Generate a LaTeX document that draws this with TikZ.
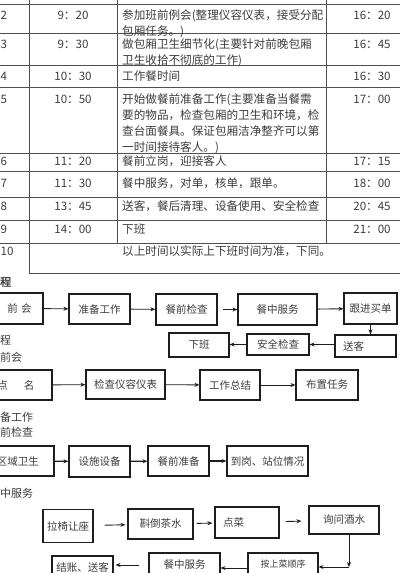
\documentclass[tikz,border=0pt]{standalone}
\usepackage{fontspec}
\setmainfont{Noto Sans CJK SC}[AutoFakeBold=2]
\usetikzlibrary{arrows.meta}
\definecolor{ink}{HTML}{3C3C3C}
\definecolor{frame}{HTML}{1E1E1E}
\definecolor{grid}{HTML}{505050}

\begin{document}
\begin{tikzpicture}[x=1pt,y=-1pt,
  cell/.style={anchor=base west,align=left,inner sep=0pt,text=ink,
               font=\fontsize{11.6}{16}\selectfont},
  tm/.style={anchor=base,inner sep=0pt,text=ink,font=\fontsize{11.6}{16}\selectfont},
  hd/.style={anchor=base west,inner sep=0pt,text=ink,font=\fontsize{11}{13}\selectfont},
  box/.style={draw=frame,line width=1.1pt,inner sep=0pt,text=ink,
              font=\fontsize{10.5}{12}\selectfont},
  lbox/.style={box,align=left,inner xsep=8pt},
  >={Stealth[length=5pt,width=4pt]}]
\clip (0,0) rectangle (400,573);
% table
\draw[grid,line width=0.9pt]
  (0,4) -- (400,4) (0,33) -- (400,33) (0,65) -- (400,65) (0,87) -- (400,87)
  (0,153) -- (400,153) (0,171) -- (400,171) (0,197) -- (400,197)
  (0,220) -- (400,220) (0,243) -- (400,243) (29,273) -- (400,273)
  (29,0) -- (29,273) (117,0) -- (117,243) (326,0) -- (326,243);
% multi-line cells sit on the baseline of their last line
\node[cell] (n2) at (0.5,19) {2};
\node[tm] (a2) at (73,19) {9：20};
\node[cell] (c2) at (122,35) {参加班前例会(整理仪容仪表，接受分配\\包厢任务。)};
\node[tm] (b2) at (372,19) {16：20};
\node[cell] (n3) at (0.5,48) {3};
\node[tm] (a3) at (73,48) {9：30};
\node[cell] (c3) at (122,64) {做包厢卫生细节化(主要针对前晚包厢\\卫生收拾不彻底的工作)};
\node[tm] (b3) at (372,48) {16：45};
\node[cell] (n4) at (0.5,80) {4};
\node[tm] (a4) at (73,80) {10：30};
\node[cell] (c4) at (122,80) {工作餐时间};
\node[tm] (b4) at (372,80) {16：30};
\node[cell] (n5) at (0.5,103) {5};
\node[tm] (a5) at (73,103) {10：50};
\node[cell] (c5) at (122,151) {开始做餐前准备工作(主要准备当餐需\\要的物品，检查包厢的卫生和环境，检\\查台面餐具。保证包厢洁净整齐可以第\\一时间接待客人。)};
\node[tm] (b5) at (372,103) {17：00};
\node[cell] (n6) at (0.5,165) {6};
\node[tm] (a6) at (73,165) {11：20};
\node[cell] (c6) at (122,165) {餐前立岗，迎接客人};
\node[tm] (b6) at (372,165) {17：15};
\node[cell] (n7) at (0.5,187) {7};
\node[tm] (a7) at (73,187) {11：30};
\node[cell] (c7) at (122,187) {餐中服务，对单，核单，跟单。};
\node[tm] (b7) at (372,187) {18：00};
\node[cell] (n8) at (0.5,210) {8};
\node[tm] (a8) at (73,210) {13：45};
\node[cell] (c8) at (122,210) {送客，餐后清理、设备使用、安全检查};
\node[tm] (b8) at (372,210) {20：45};
\node[cell] (n9) at (0.5,233) {9};
\node[tm] (a9) at (73,233) {14：00};
\node[cell] (c9) at (122,233) {下班};
\node[tm] (b9) at (372,233) {21：00};
\node[cell] (n10) at (0.5,255) {10};
\node[cell] (c10) at (122,255) {以上时间以实际上下班时间为准，下同。};
% flow of the day
\node[hd,font=\fontsize{11}{13}\selectfont\bfseries] (h1) at (0,286) {程};
\node[box,minimum width=47,minimum height=31] (qa) at (19.5,308.5) {前\,\,会};
\node[box,minimum width=61,minimum height=30] (qb) at (99.5,309) {准备工作};
\node[box,minimum width=61,minimum height=31] (qc) at (186.5,309.5) {餐前检查};
\node[box,minimum width=79,minimum height=31] (qd) at (277.5,309.5) {餐中服务};
\node[box,minimum width=53,minimum height=31] (qe) at (370.5,308.5) {跟进买单};
\node[lbox,text width=45,minimum height=22] (qf) at (365.5,346) {送客};
\node[box,minimum width=62,minimum height=21] (qg) at (278,344.5) {安全检查};
\node[box,minimum width=60,minimum height=24] (qh) at (199,345) {下班};
\draw[->,frame,line width=0.9pt] (qa) -- (qb);
\draw[->,frame,line width=0.9pt] (qb) -- (qc);
\draw[->,frame,line width=0.9pt,shorten <=5pt] (qc) -- (qd);
\draw[->,frame,line width=0.9pt] (qd) -- (qe);
\draw[->,frame,line width=0.9pt] (qe.south) -- (qe.south |- qf.north);
\draw[->,frame,line width=0.9pt] (qf.west |- qg.east) -- (qg.east);
\draw[->,frame,line width=0.9pt] (qg.west) -- (qg.west -| qh.east);
% pre-shift meeting
\node[hd] (h2) at (0,344) {程};
\node[hd] (h3) at (0,361) {前会};
\node[box,minimum width=72,minimum height=30] (pa) at (16,385) {点\hspace{16pt}名};
\node[box,minimum width=79,minimum height=29] (pb) at (125.5,384.5) {检查仪容仪表};
\node[box,minimum width=60,minimum height=30] (pc) at (230,385) {工作总结};
\node[box,minimum width=62,minimum height=30] (pd) at (327,385) {布置任务};
\draw[->,frame,line width=0.9pt] (pa) -- (pb);
\draw[->,frame,line width=0.9pt] (pb) -- (pc);
\draw[->,frame,line width=0.9pt] (pc) -- (pd);
% preparation / pre-meal check
\node[hd] (h4) at (0,421) {备工作};
\node[hd] (h5) at (0,436) {前检查};
\node[box,minimum width=72,minimum height=30] (ra) at (18,461) {区域卫生};
\node[box,minimum width=61,minimum height=31] (rb) at (99.5,461.5) {设施设备};
\node[box,minimum width=61,minimum height=30] (rc) at (178.5,461) {餐前准备};
\node[box,minimum width=81,minimum height=30] (rd) at (267.5,461) {到岗、站位情况};
\draw[->,frame,line width=1.3pt] (ra) -- (rb);
\draw[->,frame,line width=1.3pt] (rb) -- (rc);
\draw[->,frame,line width=1.3pt] (rc) -- (rd);
% service during the meal
\node[hd] (h6) at (0,497) {中服务};
\node[box,minimum width=50,minimum height=33] (sa) at (68,526) {拉椅让座};
\node[box,minimum width=65,minimum height=30] (sb) at (160.5,524) {斟倒茶水};
\node[lbox,text width=48,minimum height=31] (sc) at (247,522.5) {点菜};
\node[box,minimum width=70,minimum height=28] (sd) at (344,520) {询问酒水};
\node[box,minimum width=70,minimum height=22,font=\fontsize{9}{11}\selectfont] (se) at (283,564) {按上菜顺序};
\node[box,minimum width=71,minimum height=24] (sf) at (184.5,565) {餐中服务};
\node[box,minimum width=61,minimum height=22] (sg) at (82.5,567) {结账、送客};
\coordinate (k) at (349,567);
\draw[->,frame,line width=0.9pt,shorten <=11pt,shorten >=2pt] (sa) -- (sb);
\draw[->,frame,line width=0.9pt,shorten <=3pt,shorten >=2pt] (sb) -- (sc);
\draw[->,frame,line width=0.9pt,shorten <=6pt,shorten >=7pt] (sc) -- (sd);
\draw[->,frame,line width=0.9pt] (k |- sd.south) -- (k);
\draw[->,frame,line width=0.9pt] (k) -- (k -| se.east);
\draw[->,frame,line width=0.9pt] ([yshift=-4pt]se.west) -- ([yshift=-4pt]se.west -| sf.east);
\draw[->,frame,line width=0.9pt,shorten <=9pt,shorten >=2pt] (sf.west) -- (sf.west -| sg.east);
\end{tikzpicture}
\end{document}
